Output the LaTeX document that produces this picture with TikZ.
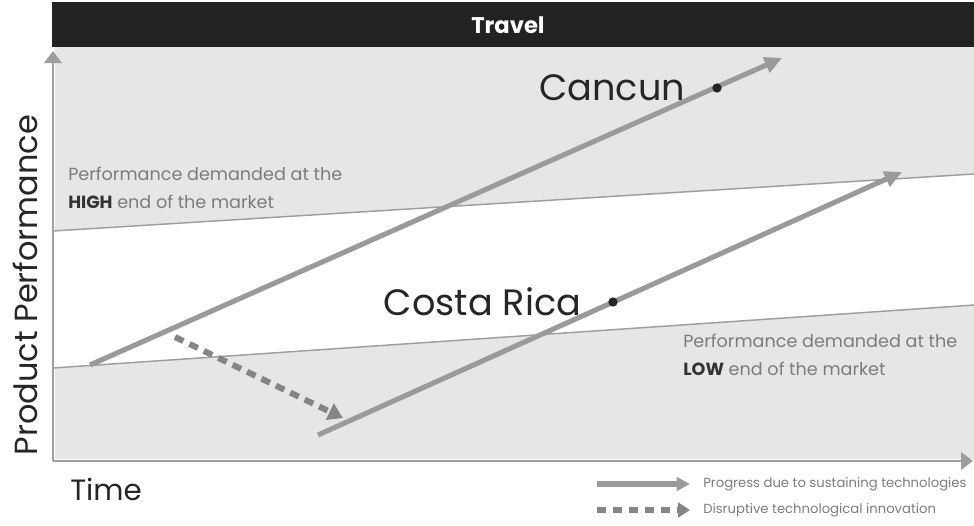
\documentclass[tikz,border=0pt]{standalone}
\usepackage{fontspec}
\setmainfont{Poppins}
\usetikzlibrary{arrows.meta,positioning}
\definecolor{bggray}{HTML}{E6E6E6}
\definecolor{linegray}{HTML}{9E9E9E}
\definecolor{arrowgray}{HTML}{9A9A9A}
\definecolor{dashgray}{HTML}{858585}
\definecolor{textgray}{HTML}{7C7C7C}
\definecolor{barblack}{HTML}{222222}

\tikzset{
  axis/.style={draw=linegray,line width=2.2pt,-{Triangle[length=9pt,width=13pt]}},
  demand/.style={draw=linegray,line width=1.1pt},
  sustain/.style={draw=arrowgray,line width=3.8pt,-{Triangle[length=13pt,width=12pt]}},
  disrupt/.style={draw=dashgray,line width=4.5pt,dash pattern=on 7pt off 5pt,-{Triangle[length=11pt,width=13pt]}},
  dot/.style={circle,fill=black!85,inner sep=0pt,minimum size=7pt},
  city/.style={font=\fontsize{27.5}{32}\selectfont,text=black!85,inner sep=0pt},
  note/.style={font=\fontsize{13.2}{21}\selectfont,text=textgray,align=left,inner sep=0pt},
  legend/.style={font=\fontsize{9.9}{11}\selectfont,text=textgray,inner sep=0pt},
}

\begin{document}
\begin{tikzpicture}[x=0.75pt,y=-0.75pt,line cap=butt]
\useasboundingbox (0,0) rectangle (974,525);
% plot area
\fill[bggray] (55,47) rectangle (974,459);
\fill[white] (55,231) -- (974,174) -- (974,305) -- (55,368) -- cycle;
\fill[barblack] (52,2) rectangle (974,47);
\node[font=\bfseries\fontsize{17}{20}\selectfont,text=white] (title) at (508,25) {Travel};

% demand lines
\coordinate (hiA) at (53,231); \coordinate (hiB) at (974,174);
\coordinate (loA) at (53,368); \coordinate (loB) at (974,305);
\draw[demand] (hiA) -- (hiB);
\draw[demand] (loA) -- (loB);

% axes
\coordinate (origin) at (53,461);
\coordinate (ytip) at (53,51);
\coordinate (xtip) at (973,461);
\draw[axis] (origin) -- (ytip);
\draw[axis] (origin) -- (xtip);
\node[rotate=90,font=\fontsize{24}{27}\selectfont,text=black!85] (ylbl) at (25,285) {Product Performance};
\node[anchor=base west,font=\fontsize{22}{24}\selectfont,text=black!85,inner sep=0pt] (xlbl) at (70,500) {Time};

% trajectories
\coordinate (cancunA) at (90,365); \coordinate (cancunB) at (782,58);
\coordinate (costaA) at (318,435); \coordinate (costaB) at (902,172);
\coordinate (shiftA) at (175,337); \coordinate (shiftB) at (343,418);
\draw[sustain] (cancunA) -- (cancunB);
\draw[sustain] (costaA) -- (costaB);
\draw[disrupt] (shiftA) -- (shiftB);

\node[dot] (cancun) at (717,88) {};
\node[dot] (costa) at (613,302) {};
\node[city,left=20pt of cancun] (cancunlbl) {Cancun};
\node[city,left=20pt of costa] (costalbl) {Costa Rica};

\node[note,anchor=north west] (highnote) at (68,167) {Performance demanded at the\\{\color{black!80}\bfseries HIGH} end of the market};
\node[note,anchor=north west] (lownote) at (683,334) {Performance demanded at the\\{\color{black!80}\bfseries LOW} end of the market};

% legend
\coordinate (keyA) at (597,484); \coordinate (keyB) at (690,484);
\coordinate (keyC) at (597,510); \coordinate (keyD) at (690,510);
\draw[sustain,-{Triangle[length=10pt,width=10pt]}] (keyA) -- (keyB);
\draw[disrupt,line width=3.8pt,-{Triangle[length=9pt,width=11pt]}] (keyC) -- (keyD);
\node[legend,anchor=west] (keysust) at (703,484) {Progress due to sustaining technologies};
\node[legend,anchor=west] (keydisr) at (703,510) {Disruptive technological innovation};
\end{tikzpicture}
\end{document}
